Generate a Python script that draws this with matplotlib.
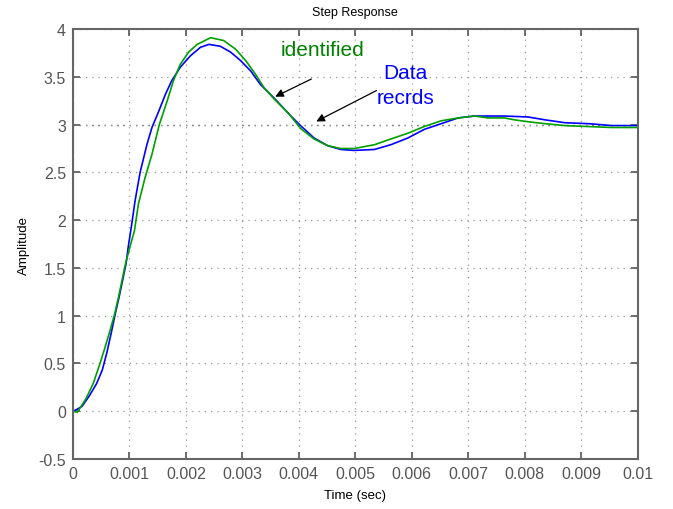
import matplotlib
matplotlib.use("Agg")
import matplotlib.pyplot as plt

# --- values (time in ms, converted below) ---
t_data_ms = [0, 0.04, 0.16, 0.29, 0.42, 0.52, 0.60, 0.69, 0.75, 0.82, 0.88, 0.94, 0.98, 1.04,
             1.10, 1.19, 1.31, 1.40, 1.52, 1.64, 1.75, 1.90, 2.08, 2.26, 2.41, 2.61, 2.79,
             2.97, 3.15, 3.32, 3.56, 3.86, 4.03, 4.27, 4.51, 4.74, 4.98, 5.34, 5.63, 5.93,
             6.22, 6.52, 6.82, 7.11, 7.35, 7.64, 8.06, 8.36, 8.71, 9.13, 9.54, 10.0]
y_data = [0, 0.01, 0.05, 0.16, 0.29, 0.43, 0.61, 0.85, 1.02, 1.20, 1.37, 1.54, 1.72, 1.95,
          2.20, 2.50, 2.79, 2.97, 3.14, 3.32, 3.46, 3.60, 3.72, 3.81, 3.84, 3.82, 3.76,
          3.67, 3.56, 3.42, 3.28, 3.09, 2.99, 2.86, 2.78, 2.74, 2.73, 2.74, 2.79, 2.86,
          2.95, 3.01, 3.07, 3.09, 3.09, 3.09, 3.08, 3.05, 3.02, 3.01, 2.99, 2.99]

t_ident_ms = [0, 0.08, 0.23, 0.36, 0.48, 0.57, 0.66, 0.74, 0.81, 0.87, 0.93, 1.01, 1.09,
              1.16, 1.28, 1.40, 1.53, 1.67, 1.78, 1.90, 2.05, 2.20, 2.44, 2.67, 2.88, 3.06,
              3.23, 3.38, 3.56, 3.83, 4.03, 4.27, 4.51, 4.74, 4.98, 5.34, 5.63, 5.93, 6.22,
              6.52, 6.82, 7.11, 7.35, 7.64, 7.82, 8.06, 8.36, 8.71, 9.13, 9.54, 10.0]
y_ident = [0, -0.01, 0.13, 0.29, 0.50, 0.67, 0.85, 1.02, 1.20, 1.37, 1.54, 1.72, 1.89,
           2.17, 2.45, 2.69, 3.00, 3.25, 3.46, 3.63, 3.76, 3.84, 3.91, 3.88, 3.79, 3.67,
           3.53, 3.39, 3.27, 3.11, 2.96, 2.85, 2.78, 2.75, 2.75, 2.79, 2.85, 2.91, 2.98,
           3.04, 3.07, 3.09, 3.07, 3.07, 3.05, 3.03, 3.01, 2.99, 2.98, 2.97, 2.97]

t_data = [v / 1000 for v in t_data_ms]
t_ident = [v / 1000 for v in t_ident_ms]

x_ticks = [0, 0.001, 0.002, 0.003, 0.004, 0.005, 0.006, 0.007, 0.008, 0.009, 0.01]
x_labels = ["0", "0.001", "0.002", "0.003", "0.004", "0.005", "0.006", "0.007", "0.008", "0.009", "0.01"]
y_ticks = [-0.5, 0, 0.5, 1, 1.5, 2, 2.5, 3, 3.5, 4]
y_labels = ["-0.5", "0", "0.5", "1", "1.5", "2", "2.5", "3", "3.5", "4"]
steady_state = 3

plt.rcParams["font.family"] = ["Liberation Sans", "DejaVu Sans"]

fig = plt.figure(figsize=(6.73, 5.10), dpi=100)
ax = fig.add_axes([0.1083, 0.098, 0.8393, 0.843])

ax.plot(t_data, y_data, color="#0000ff", linewidth=1.2)
ax.plot(t_ident, y_ident, color="#00a000", linewidth=1.2)

ax.axhline(steady_state, color="black", linestyle=(0, (1, 4)), linewidth=0.9, zorder=0)

ax.set_xlim(0, 0.01)
ax.set_ylim(-0.5, 4)
ax.set_xticks(x_ticks)
ax.set_xticklabels(x_labels)
ax.set_yticks(y_ticks)
ax.set_yticklabels(y_labels)
ax.tick_params(direction="in", colors="#555555", labelsize=11.5, length=5, width=1.2,
               top=True, right=True, pad=5)
for s in ax.spines.values():
    s.set_color("#666666")
    s.set_linewidth(1.5)
ax.grid(True, color="#999999", linestyle=(0, (1, 4)), linewidth=0.9)

ax.set_title("Step Response", fontsize=9, pad=10)
ax.set_xlabel("Time (sec)", fontsize=9.5, labelpad=6)
ax.set_ylabel("Amplitude", fontsize=9.5, labelpad=6)

# --- annotations ---
ax.annotate("", xy=(0.003537, 3.28), xytext=(0.004265, 3.49),
            arrowprops=dict(arrowstyle="-|>", color="black", lw=0.9, mutation_scale=12))
ax.text(0.004425, 3.79, "identified", color="#008000", fontsize=15, ha="center", va="center")
ax.annotate("", xy=(0.004265, 3.02), xytext=(0.005418, 3.37),
            arrowprops=dict(arrowstyle="-|>", color="black", lw=0.9, mutation_scale=12))
ax.text(0.005880, 3.42, "Data\nrecrds", color="#0000ff", fontsize=15, ha="center", va="center",
        linespacing=1.4)

fig.savefig("out.png", dpi=100)
plt.close(fig)
